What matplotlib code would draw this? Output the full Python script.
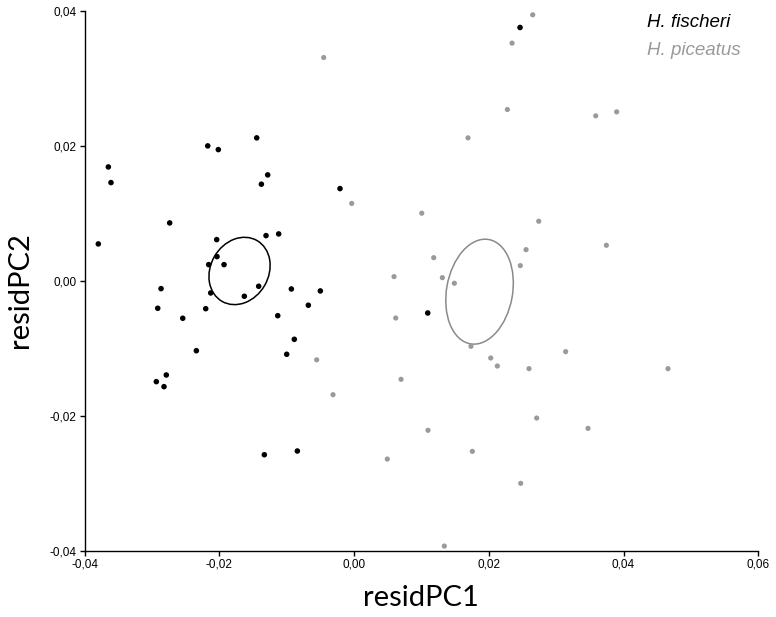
import matplotlib
matplotlib.use("Agg")
import matplotlib.pyplot as plt
from matplotlib.patches import Ellipse
from matplotlib.ticker import FuncFormatter

# H. fischeri (black)
fis_x = [-0.03646, -0.03607, -0.02171, -0.02014, -0.01444, -0.01281, -0.01375, -0.00208,
         -0.02736, -0.03795, -0.02038, -0.01306, -0.01118, -0.02033, -0.02157, -0.01929,
         -0.01415, -0.02127, -0.01628, -0.02864, -0.00930, -0.00500, -0.02913, -0.02201,
         -0.00678, -0.01132, -0.02542, -0.00886, -0.00999, -0.02340, -0.02786, -0.02934,
         -0.02820, -0.01331, -0.00841, 0.02464, 0.01094]
fis_y = [0.01693, 0.01461, 0.02005, 0.01950, 0.02124, 0.01575, 0.01437, 0.01372,
         0.00863, 0.00552, 0.00616, 0.00675, 0.00700, 0.00364, 0.00245, 0.00245,
         -0.00076, -0.00175, -0.00224, -0.00111, -0.00116, -0.00145, -0.00402, -0.00408,
         -0.00357, -0.00512, -0.00550, -0.00862, -0.01084, -0.01031, -0.01391, -0.01490,
         -0.01564, -0.02573, -0.02518, 0.03760, -0.00472]

# H. piceatus (grey)
pic_x = [0.02652, 0.02345, -0.00450, 0.02276, 0.03587, 0.03898, 0.01692, -0.00034,
         0.01005, 0.02741, 0.03745, 0.02553, 0.01183, 0.02468, 0.00594, 0.01311,
         0.01489, 0.00619, 0.01736, -0.00554, 0.02029, 0.02127, 0.02597, 0.03141,
         0.04660, 0.00698, -0.00312, 0.02711, 0.03473, 0.01098, 0.01756, 0.00494,
         0.02474, 0.01340]
pic_y = [0.03948, 0.03528, 0.03315, 0.02544, 0.02450, 0.02509, 0.02124, 0.01152,
         0.01007, 0.00888, 0.00532, 0.00467, 0.00348, 0.00230, 0.00067, 0.00052,
         -0.00031, -0.00546, -0.00966, -0.01166, -0.01139, -0.01258, -0.01297, -0.01045,
         -0.01297, -0.01455, -0.01683, -0.02029, -0.02182, -0.02211, -0.02523, -0.02637,
         -0.02997, -0.03927]

# confidence ellipses: center x, center y, major, minor, angle (deg)
fis_ell = (-0.01699, 0.00151, 0.0104, 0.0086, 60)
pic_ell = (0.01863, -0.00156, 0.0157, 0.0098, 80)

xticks = [-0.04, -0.02, 0.00, 0.02, 0.04, 0.06]
yticks = [-0.04, -0.02, 0.00, 0.02, 0.04]

fig = plt.figure(figsize=(7.76, 6.17), dpi=100)
ax = fig.add_axes([84.5/776, 1-551/617, (758.3-84.5)/776, (551-11.3)/617])

grey = "#9a9a9a"
ax.scatter(pic_x, pic_y, s=14, color=grey, edgecolors="none", zorder=3)
ax.scatter(fis_x, fis_y, s=16, color="black", edgecolors="none", zorder=4)

for (cx, cy, w, h, ang), col in [(fis_ell, "black"), (pic_ell, "#8a8a8a")]:
    ax.add_patch(Ellipse((cx, cy), w, h, angle=ang, fill=False, edgecolor=col, lw=1.1, zorder=2))

ax.set_xlim(-0.04, 0.06)
ax.set_ylim(-0.04, 0.04)
ax.set_xticks(xticks)
ax.set_yticks(yticks)
fmt = FuncFormatter(lambda v, p: f"{v:.2f}".replace(".", ",").replace("-0,00", "0,00"))
ax.xaxis.set_major_formatter(fmt)
ax.yaxis.set_major_formatter(fmt)
for s in ["top", "right"]:
    ax.spines[s].set_visible(False)
for s in ["left", "bottom"]:
    ax.spines[s].set_linewidth(1.0)
ax.tick_params(direction="out", length=3.5, width=1.0, labelsize=8.5, pad=2)
for lab in ax.get_xticklabels() + ax.get_yticklabels():
    lab.set_fontfamily("Liberation Sans")

ax.set_xlabel("residPC1", fontsize=21, family="Lato", labelpad=10)
ax.set_ylabel("residPC2", fontsize=21, family="Lato", labelpad=12)
ax.yaxis.label.set_y(0.484)

fig.text(647/776, 1-27/617, "H. fischeri", fontsize=13.5, style="italic",
         family="Liberation Sans", color="black", ha="left", va="baseline")
fig.text(647/776, 1-55/617, "H. piceatus", fontsize=13.5, style="italic",
         family="Liberation Sans", color=grey, ha="left", va="baseline")

fig.savefig("out.png", dpi=100)
